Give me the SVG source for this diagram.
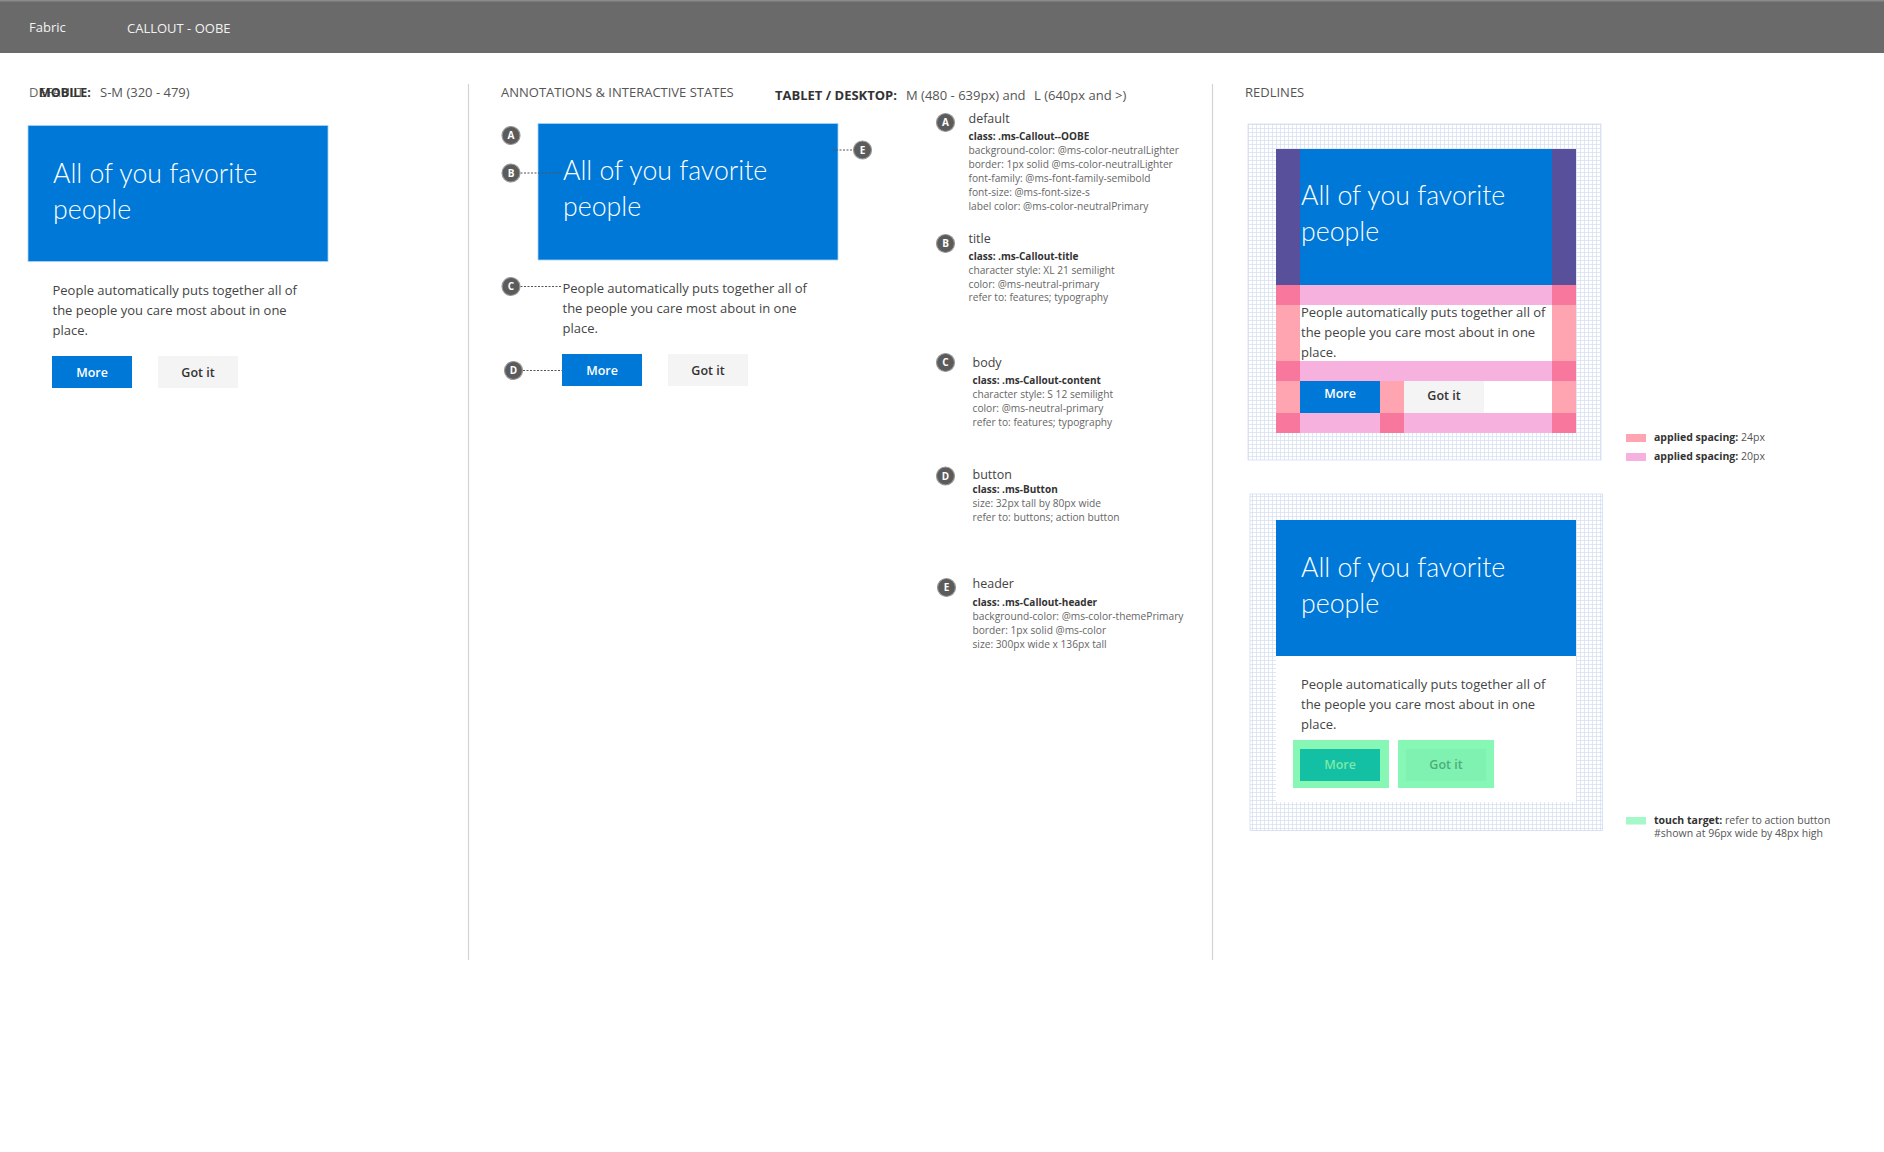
<svg xmlns="http://www.w3.org/2000/svg" width="1884" height="1152" viewBox="0 0 1884 1152">
<defs>
<pattern id="grid" width="4" height="4" patternUnits="userSpaceOnUse" x="0" y="0">
<path d="M0 0.5 H4 M0.5 0 V4" fill="none" stroke="#d3dcf1" stroke-width="0.7"/>
</pattern>
<style>
text{font-family:"Open Sans","Noto Sans","Liberation Sans",sans-serif}
.hdr{font-size:13px;fill:#f2f2f2}
.sec{font-size:13px;fill:#555}
.secb{font-size:13px;fill:#333;font-weight:700}
.title{font-family:Lato,"Open Sans",sans-serif;font-size:26.7px;font-weight:300;fill:#fff}
.body{font-size:13px;fill:#444}
.btn{font-size:12.5px;font-weight:600;text-anchor:middle}
.blue{fill:#0078d7}
.gray{fill:#f4f4f4}
.circ{fill:#5b5b5b;stroke:#999;stroke-width:1.2}
.cl{font-size:10px;font-weight:700;fill:#fff;text-anchor:middle}
.nh{font-size:12.5px;fill:#444}
.nb{font-size:10px;font-weight:700;fill:#333}
.nt{font-size:10.2px;fill:#666}
.dot{stroke:#555;stroke-width:1;stroke-dasharray:2 1.5;fill:none}
.div{stroke:#d4d4d4;stroke-width:1.2}
.pur{fill:#58509b}
.dp{fill:#f7779d}
.lp{fill:#ffa5b1}
.p20{fill:#f7b1de}
.lg{font-size:10.5px;fill:#555}
.lgb{font-size:10.5px;fill:#333;font-weight:700}
</style>
</defs>
<rect width="1884" height="1152" fill="#fff"/>

<g id="topbar">
<rect x="0" y="0" width="1884" height="53" fill="#6a6a6a"/>
<rect x="0" y="0" width="1884" height="1.5" fill="#8a8a8a"/>
<text class="hdr" x="29" y="32">Fabric</text>
<text class="hdr" x="127" y="33">CALLOUT - OOBE</text>
</g>

<g id="dividers">
<line class="div" x1="468.5" y1="84" x2="468.5" y2="960"/>
<line class="div" x1="1212.5" y1="84" x2="1212.5" y2="960"/>
</g>

<g id="mobile-panel">
<text class="sec" x="29" y="97" style="fill:#666">DEFAULT</text>
<text class="secb" x="39" y="97" style="font-size:12.5px">MOBILE:</text>
<text class="sec" x="100" y="97">S-M (320 - 479)</text>
<rect class="blue" x="28" y="125.5" width="300" height="136" stroke="#a9d3f5" stroke-width="0.8"/>
<text class="title" x="53" y="182.5">All of you favorite</text>
<text class="title" x="53" y="218.5">people</text>
<text class="body" x="52.5" y="294.5">People automatically puts together all of</text>
<text class="body" x="52.5" y="314.5">the people you care most about in one</text>
<text class="body" x="52.5" y="334.5">place.</text>
<rect class="blue" x="52" y="356" width="80" height="32"/>
<text class="btn" x="92" y="376.5" fill="#fff">More</text>
<rect class="gray" x="158" y="356" width="80" height="32"/>
<text class="btn" x="198" y="376.5" fill="#333">Got it</text>
</g>

<g id="annotated-callout">
<text class="sec" x="501" y="96.5">ANNOTATIONS &amp; INTERACTIVE STATES</text>
<rect class="blue" x="538" y="123.5" width="300" height="136.5" stroke="#a9d3f5" stroke-width="0.8"/>
<text class="title" x="563" y="180">All of you favorite</text>
<text class="title" x="563" y="215.5">people</text>
<text class="body" x="562.5" y="292.5">People automatically puts together all of</text>
<text class="body" x="562.5" y="312.5">the people you care most about in one</text>
<text class="body" x="562.5" y="332.5">place.</text>
<rect class="blue" x="562" y="354" width="80" height="32"/>
<text class="btn" x="602" y="374.5" fill="#fff">More</text>
<rect class="gray" x="668" y="354" width="80" height="32"/>
<text class="btn" x="708" y="374.5" fill="#333">Got it</text>
</g>

<g id="connectors">
<line class="dot" x1="520.5" y1="173" x2="563" y2="173"/>
<line class="dot" x1="832.5" y1="150" x2="853.5" y2="150"/>
<line class="dot" x1="520.5" y1="286.5" x2="562" y2="286.5"/>
<line class="dot" x1="523" y1="370.5" x2="562" y2="370.5"/>
</g>

<g id="marker-A"><circle class="circ" cx="511" cy="135.5" r="9"/><text class="cl" x="511" y="139">A</text></g>
<g id="marker-B"><circle class="circ" cx="511" cy="173" r="9"/><text class="cl" x="511" y="176.5">B</text></g>
<g id="marker-C"><circle class="circ" cx="511" cy="286.5" r="9"/><text class="cl" x="511" y="290">C</text></g>
<g id="marker-D"><circle class="circ" cx="513.5" cy="370.5" r="9"/><text class="cl" x="513.5" y="374">D</text></g>
<g id="marker-E"><circle class="circ" cx="862.5" cy="150" r="9"/><text class="cl" x="862.5" y="153.5">E</text></g>

<g id="tablet-heading">
<text class="secb" x="775" y="100">TABLET / DESKTOP:</text>
<text class="sec" x="906" y="100">M (480 - 639px) and</text>
<text class="sec" x="1034" y="100">L (640px and &gt;)</text>
</g>

<g id="note-A">
<circle class="circ" cx="945.5" cy="122.5" r="9"/><text class="cl" x="945.5" y="126">A</text>
<text class="nh" x="968.5" y="123">default</text>
<text class="nb" x="968.5" y="140">class: .ms-Callout--OOBE</text>
<text class="nt" x="968.5" y="154">background-color: @ms-color-neutralLighter</text>
<text class="nt" x="968.5" y="168">border: 1px solid @ms-color-neutralLighter</text>
<text class="nt" x="968.5" y="182">font-family: @ms-font-family-semibold</text>
<text class="nt" x="968.5" y="196">font-size: @ms-font-size-s</text>
<text class="nt" x="968.5" y="209.5">label color: @ms-color-neutralPrimary</text>
</g>

<g id="note-B">
<circle class="circ" cx="945.5" cy="243.5" r="9"/><text class="cl" x="945.5" y="247">B</text>
<text class="nh" x="968.5" y="242.5">title</text>
<text class="nb" x="968.5" y="259.5">class: .ms-Callout-title</text>
<text class="nt" x="968.5" y="273.5">character style: XL 21 semilight</text>
<text class="nt" x="968.5" y="287.5">color: @ms-neutral-primary</text>
<text class="nt" x="968.5" y="301">refer to: features; typography</text>
</g>

<g id="note-C">
<circle class="circ" cx="945.5" cy="362.5" r="9"/><text class="cl" x="945.5" y="366">C</text>
<text class="nh" x="972.5" y="366.5">body</text>
<text class="nb" x="972.5" y="384">class: .ms-Callout-content</text>
<text class="nt" x="972.5" y="398">character style: S 12 semilight</text>
<text class="nt" x="972.5" y="412">color: @ms-neutral-primary</text>
<text class="nt" x="972.5" y="425.5">refer to: features; typography</text>
</g>

<g id="note-D">
<circle class="circ" cx="945.5" cy="476" r="9"/><text class="cl" x="945.5" y="479.5">D</text>
<text class="nh" x="972.5" y="478.5">button</text>
<text class="nb" x="972.5" y="492.5">class: .ms-Button</text>
<text class="nt" x="972.5" y="506.5">size: 32px tall by 80px wide</text>
<text class="nt" x="972.5" y="520.5">refer to: buttons; action button</text>
</g>

<g id="note-E">
<circle class="circ" cx="946.5" cy="587.5" r="9"/><text class="cl" x="946.5" y="591">E</text>
<text class="nh" x="972.5" y="588">header</text>
<text class="nb" x="972.5" y="605.5">class: .ms-Callout-header</text>
<text class="nt" x="972.5" y="619.5">background-color: @ms-color-themePrimary</text>
<text class="nt" x="972.5" y="633.5">border: 1px solid @ms-color</text>
<text class="nt" x="972.5" y="647.5">size: 300px wide x 136px tall</text>
</g>

<g id="redline-spacing">
<text class="sec" x="1245" y="96.5">REDLINES</text>
<rect x="1248" y="124" width="353" height="336" fill="url(#grid)" stroke="#d3dcf1" stroke-width="0.8"/>
<rect class="pur" x="1276" y="149" width="24" height="136"/>
<rect class="blue" x="1300" y="149" width="252" height="136"/>
<rect class="pur" x="1552" y="149" width="24" height="136"/>
<rect class="dp" x="1276" y="285" width="24" height="20"/>
<rect class="p20" x="1300" y="285" width="252" height="20"/>
<rect class="dp" x="1552" y="285" width="24" height="20"/>
<rect class="lp" x="1276" y="305" width="24" height="56"/>
<rect x="1300" y="305" width="252" height="56" fill="#fff"/>
<rect class="lp" x="1552" y="305" width="24" height="56"/>
<rect class="dp" x="1276" y="361" width="24" height="20"/>
<rect class="p20" x="1300" y="361" width="252" height="20"/>
<rect class="dp" x="1552" y="361" width="24" height="20"/>
<rect class="lp" x="1276" y="381" width="24" height="32"/>
<rect class="blue" x="1300" y="381" width="80" height="32"/>
<rect class="lp" x="1380" y="381" width="24" height="32"/>
<rect class="gray" x="1404" y="381" width="80" height="32"/>
<rect x="1484" y="381" width="68" height="32" fill="#fff"/>
<rect class="lp" x="1552" y="381" width="24" height="32"/>
<rect class="dp" x="1276" y="413" width="24" height="20"/>
<rect class="p20" x="1300" y="413" width="80" height="20"/>
<rect class="dp" x="1380" y="413" width="24" height="20"/>
<rect class="p20" x="1404" y="413" width="148" height="20"/>
<rect class="dp" x="1552" y="413" width="24" height="20"/>
<text class="title" x="1301" y="205">All of you favorite</text>
<text class="title" x="1301" y="241">people</text>
<text class="body" x="1301" y="317">People automatically puts together all of</text>
<text class="body" x="1301" y="337">the people you care most about in one</text>
<text class="body" x="1301" y="357">place.</text>
<text class="btn" x="1340" y="398" fill="#fff">More</text>
<text class="btn" x="1444" y="400" fill="#333">Got it</text>
</g>

<g id="redline-touch">
<rect x="1250" y="494" width="352.5" height="336.5" fill="url(#grid)" stroke="#d3dcf1" stroke-width="0.8"/>
<rect x="1276" y="520" width="300" height="282" fill="#fff"/>
<rect class="blue" x="1276" y="520" width="300" height="136"/>
<text class="title" x="1301" y="577">All of you favorite</text>
<text class="title" x="1301" y="612.5">people</text>
<text class="body" x="1301" y="688.5">People automatically puts together all of</text>
<text class="body" x="1301" y="708.5">the people you care most about in one</text>
<text class="body" x="1301" y="728.5">place.</text>
<rect x="1293" y="740" width="96" height="48" fill="#86f7b4"/>
<rect x="1300" y="749" width="80" height="32" fill="#13c0a3"/>
<text class="btn" x="1340" y="769" fill="#7de9a9">More</text>
<rect x="1398" y="740" width="96" height="48" fill="#86f7b4"/>
<rect x="1406" y="749" width="80" height="32" fill="#7ff2b1"/>
<text class="btn" x="1446" y="769" fill="#4dae79">Got it</text>
</g>

<g id="legend-spacing">
<rect class="lp" x="1626" y="434" width="20" height="8"/>
<text class="lgb" x="1654" y="441">applied spacing: <tspan class="lg" style="font-weight:400">24px</tspan></text>
<rect class="p20" x="1626" y="453" width="20" height="8"/>
<text class="lgb" x="1654" y="460">applied spacing: <tspan class="lg" style="font-weight:400">20px</tspan></text>
</g>

<g id="legend-touch">
<rect x="1626" y="817" width="20" height="7.5" fill="#a5f8c8"/>
<text class="lgb" x="1654" y="823.5">touch target: <tspan class="lg" style="font-weight:400">refer to action button</tspan></text>
<text class="lg" x="1654" y="837">#shown at 96px wide by 48px high</text>
</g>
</svg>
